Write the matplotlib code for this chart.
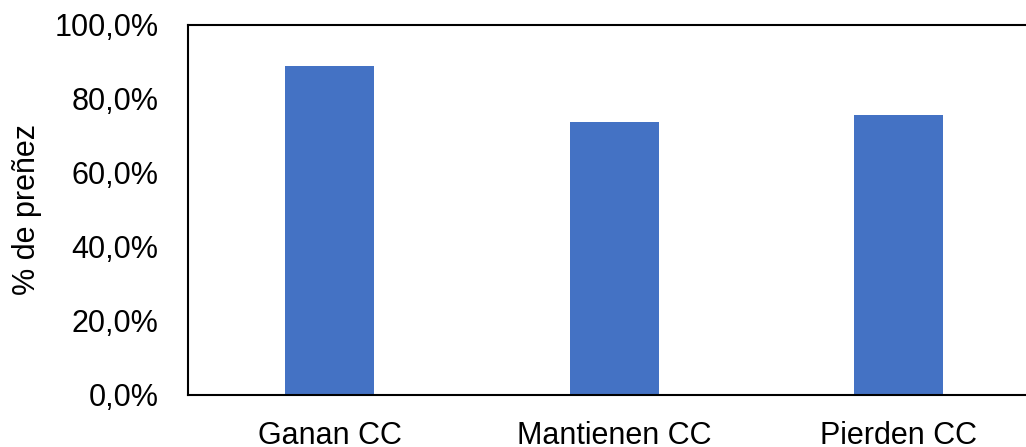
import matplotlib
matplotlib.use("Agg")
import matplotlib.pyplot as plt
from matplotlib.ticker import FuncFormatter

plt.rcParams['font.family'] = ['Liberation Sans', 'DejaVu Sans']

categories = ["Ganan CC", "Mantienen CC", "Pierden CC"]
pregnancy_rate = [88.8, 73.6, 75.6]
y_ticks = [0, 20, 40, 60, 80, 100]

W, H = 1026, 447
fig = plt.figure(figsize=(W / 100, H / 100), dpi=100)
left, right = 187.7, 1040.6
top, bottom = 24.7, 394.7
ax = fig.add_axes([left / W, 1 - bottom / H, (right - left) / W, (bottom - top) / H])

x = list(range(len(categories)))
ax.bar(x, pregnancy_rate, width=0.313, color="#4472C4", zorder=2)

ax.set_xlim(-0.5, len(categories) - 0.5)
ax.set_ylim(0, 100)
ax.set_xticks(x)
ax.set_xticklabels(categories)
ax.set_yticks(y_ticks)
ax.yaxis.set_major_formatter(FuncFormatter(lambda v, p: f"{v:.1f}".replace(".", ",") + "%"))

ax.tick_params(axis="both", length=0, labelsize=22, colors="black")
ax.tick_params(axis="y", pad=21)
ax.tick_params(axis="x", pad=19)

for s in ax.spines.values():
    s.set_linewidth(1.5)
    s.set_color("black")

ax.set_ylabel("% de preñez", fontsize=22)
ax.yaxis.set_label_coords(-(left - 42) / (right - left), 0.5)

fig.savefig("out.png", dpi=100)
